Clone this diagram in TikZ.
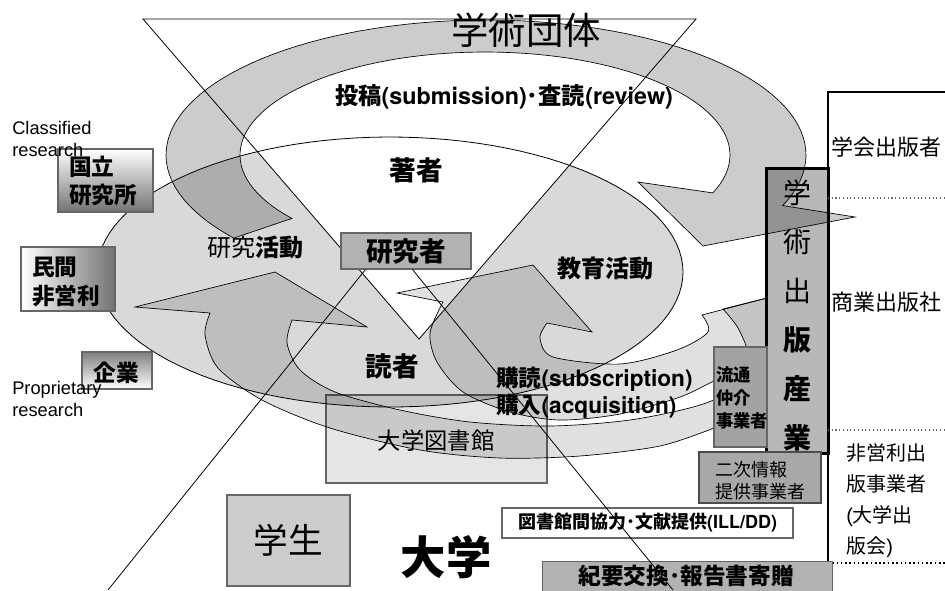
\documentclass[tikz,border=0pt]{standalone}
\usepackage{fontspec}
\setmainfont{Noto Sans CJK JP}
\newfontfamily\latinsans{Liberation Sans}
\newfontfamily\heros{TeX Gyre Heros}
\newcommand{\fsz}[1]{\fontsize{#1}{#1}\selectfont}
\newcommand{\lat}[1]{{\latinsans #1}}
\newcommand{\latb}[1]{{\heros\bfseries #1}}
\begin{document}
\begin{tikzpicture}[x=0.75pt,y=-0.75pt,
  bandL/.style={fill=black,fill opacity=0.12,draw=black,line width=0.5pt},
  bandB/.style={fill=black,fill opacity=0.2,draw=black,line width=0.5pt},
  ln/.style={draw=black,line width=0.6pt},
  gbox/.style={draw=black!60,line width=0.8pt,inner sep=0pt},
  txt/.style={inner sep=0pt}]
\useasboundingbox (0,0) rectangle (945,590);
\fill[white] (0,0) rectangle (945,590);

% bottom layer boxes
\node[gbox, fill=black!10, minimum width=165.75pt, minimum height=66pt] (lib) at (436.5,439) {};
\node[draw=black, line width=1.5pt, fill=black!28, minimum width=45.75pt, minimum height=213pt, inner sep=0pt] (pub) at (797.5,311) {};

% big ellipse (authors / readers)
\fill[black, fill opacity=0.15] plot[domain=0:360,samples=120] ({390+293*cos(\x)},{272+135*sin(\x)}) -- cycle;
% inverted triangle (white)
\fill[white] (143,19) -- (696,19) -- (419,339) -- cycle;
\draw[ln] plot[domain=0:360,samples=120] ({390+293*cos(\x)},{272+135*sin(\x)}) -- cycle;

% arrow L (library -> readers -> research)
\path[bandL] (210,313) -- (135,307) -- (275,272) -- (367,327) -- (292,320)
  -- plot[smooth] coordinates {(292,320) (287,343) (300,370) (335,392) (400,410) (470,422) (550,426) (630,420) (700,405) (740,385) (748,355) (738,328) (723,309)}
  -- (767,298) -- (767,440) -- (714,428)
  -- plot[smooth] coordinates {(714,428) (660,446) (580,456) (500,458) (420,450) (330,428) (262,400) (218,368) (205,335) (210,313)} -- cycle;

% arrow R (education)
\path[bandL] (443,302) -- (397,293) -- (533,265) -- (592,332) -- (547,323)
  -- plot[smooth] coordinates {(547,323) (540,338) (553,357) (620,364) (677,350) (708,332) (702,315)}
  -- (767,298) -- (767,362)
  -- plot[smooth] coordinates {(767,362) (745,368) (714,381) (680,397) (620,414) (560,420) (510,412) (463,392) (437,362) (430,333) (443,302)} -- cycle;

% big circular arrow (submission / review)
\path[bandB] plot[domain=142:382,samples=90] ({486+320*cos(\x)},{155+135*sin(\x)})
  -- (855,217) -- (703,246) -- (638,182)
  -- plot[domain=381.6:142,samples=90] ({485+245*cos(\x)},{155+103*sin(\x)}) -- cycle;

% triangle outline
\draw[ln] (143,19) -- (696,19) -- (419,339) -- cycle;

% publisher box border and right box
\draw[line width=1.5pt] (pub.north west) rectangle (pub.south east);
\draw[line width=1.5pt] (945,92) -- (828,92) -- (828,563);
\draw[dotted, line width=1.2pt] (828,563) -- (945,563);
\draw[dotted, black!60, line width=0.8pt] (828,198) -- (945,198);
\draw[dotted, black!60, line width=0.8pt] (828,430) -- (945,430);

% boxes on top
\node[gbox, fill=black!30, minimum width=97.5pt, minimum height=27pt, font=\bfseries\fsz{20}] (res) at (406,251) {研究者};
\node[gbox, fill=black!36, minimum width=39.75pt, minimum height=75pt] (dist) at (740.5,397) {};
\node[draw=black!70, line width=0.8pt, fill=black!34, minimum width=91.5pt, minimum height=38.25pt, inner sep=0pt] (sec) at (760,477.5) {};
\node[gbox, fill=black!20, minimum width=92.25pt, minimum height=68.25pt, font=\fsz{26}] (stud) at (288.5,540.5) {学生};
\node[gbox, fill=white, minimum width=218.25pt, minimum height=22.5pt, font=\bfseries\fsz{13.5}] (ill) at (647.5,523) {図書館間協力･文献提供\latb{(ILL/DD)}};
\node[gbox, fill=black!30, minimum width=217.5pt, minimum height=33pt, anchor=north west] (kiyo) at (542,561) {};
\node[draw=black!60, line width=0.8pt, top color=white, bottom color=black!55, minimum width=71.25pt, minimum height=47.25pt, inner sep=0pt] (natl) at (105.5,180.5) {};
\node[draw=black!60, line width=0.8pt, left color=white, right color=black!55, minimum width=70.5pt, minimum height=48pt, inner sep=0pt] (npo) at (68,279) {};
\node[draw=black!60, line width=0.8pt, top color=black!50, bottom color=white, minimum width=52.5pt, minimum height=27.75pt, inner sep=0pt] (corp) at (117,370.5) {};

% lines from researcher
\coordinate (bl) at (108,590);
\coordinate (br) at (673,590);
\draw[ln] ([xshift=18.75pt]res.south west) -- (bl);
\draw[ln] ([xshift=54pt]res.south west) -- (br);

% texts
\node[txt, font=\fsz{28}] (title) at (526,30) {学術団体};
\node[txt, font=\bfseries\fsz{17.5}] (subm) at (504,97) {投稿\latb{(submission)}･査読\latb{(review)}};
\node[txt, font=\bfseries\fsz{20}] (author) at (416,170) {著者};
\node[txt, font=\fsz{18}] (resact) at (255,247) {研究\textbf{活動}};
\node[txt, font=\bfseries\fsz{18}] (edu) at (605,268) {教育活動};
\node[txt, font=\bfseries\fsz{20}] (reader) at (392,366) {読者};
\node[txt, anchor=west, font=\bfseries\fsz{17}] (subs) at (496,379) {購読\latb{(subscription)}};
\node[txt, anchor=west, font=\bfseries\fsz{17}] (acq) at (496,406) {購入\latb{(acquisition)}};
\node[txt, font=\fsz{17.5}] (libt) at (436,441) {大学図書館};
\node[txt, font=\bfseries\fsz{34}] (univ) at (446,557) {大学};
\node[txt, font=\bfseries\fsz{17}] (kiyot) at (686,576) {紀要交換･報告書寄贈};
\node[txt, anchor=west, align=left, font=\bfseries\fontsize{13}{17}\selectfont] (distt) at (716,398) {流通\\仲介\\事業者};
\node[txt, anchor=west, align=left, font=\fontsize{13.5}{16.5}\selectfont] (sect) at (715,481) {二次情報\\提供事業者};
\node[txt, anchor=west, align=left, font=\bfseries\fontsize{17}{21}\selectfont] (natlt) at (69,181) {国立\\研究所};
\node[txt, anchor=west, align=left, font=\bfseries\fontsize{17}{21.75}\selectfont] (npot) at (32,282) {民間\\非営利};
\node[txt, font=\bfseries\fsz{17}] (corpt) at (116,373) {企業};
\node[txt, anchor=base west, font=\latinsans\fsz{13.7}] (cl1) at (12,134) {Classified};
\node[txt, anchor=base west, font=\latinsans\fsz{13.7}] (cl2) at (12,156) {research};
\node[txt, anchor=base west, font=\latinsans\fsz{13.7}] (pr1) at (12,394) {Proprietary};
\node[txt, anchor=base west, font=\latinsans\fsz{13.7}] (pr2) at (12,416) {research};
\node[txt, align=center, font=\fontsize{21}{36.75}\selectfont] (pubt) at (797,315) {学\\術\\出\\\textbf{版}\\\textbf{産}\\\textbf{業}};
\node[txt, anchor=west, font=\fsz{16.5}] (p1) at (831,147) {学会出版者};
\node[txt, anchor=west, font=\fsz{16.5}] (p2) at (831,302) {商業出版社};
\node[txt, anchor=west, align=left, font=\fontsize{15}{23.25}\selectfont] (p3) at (846,501) {非営利出\\版事業者\\\lat{(}大学出\\版会\lat{)}};
\end{tikzpicture}
\end{document}
